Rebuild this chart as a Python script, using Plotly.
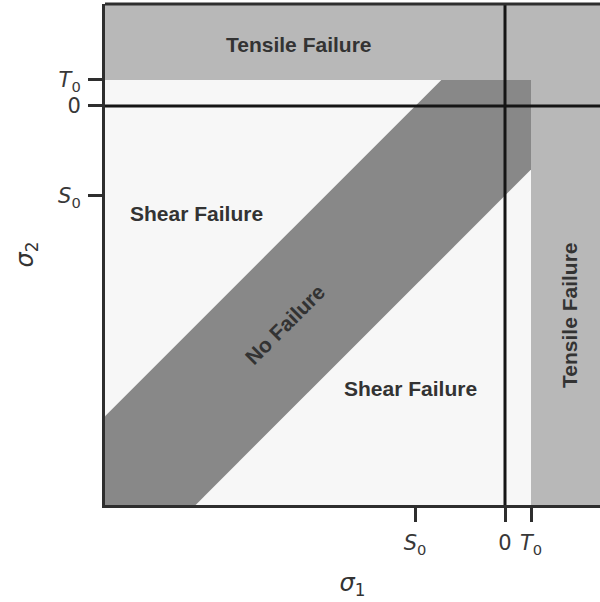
import plotly.graph_objects as go

# ---- data ----
T0 = 1.0            # tensile strength (tick T0)
S0 = -3.46          # shear strength reference (tick S0)
band_half_width = 3.45   # half width of the "No Failure" band, |s1 - s2| <= C
x_limits = [-15.385, 3.654]
y_limits = [-15.35, 3.92]

tick_values = [S0, 0, T0]
tick_labels = ['<i>S</i><sub>0</sub>', '0', '<i>T</i><sub>0</sub>']

region_names = ["Tensile Failure", "Shear Failure", "No Failure", "Shear Failure", "Tensile Failure"]
region_x = [-7.92, -11.85, -8.46, -3.65, 2.5]
region_y = [2.35, -4.15, -8.42, -10.88, -8.04]
region_angle = [0, 0, -45, 0, -90]

# ---- styling ----
BG = "#f7f7f7"
TENSILE = "#b8b8b8"
BAND = "#888888"
INK = "#2e2e2e"

xmin, xmax = x_limits
ymin, ymax = y_limits
C = band_half_width

fig = go.Figure()

# Tensile failure (top)
fig.add_trace(go.Scatter(x=[xmin, xmax, xmax, xmin, xmin], y=[T0, T0, ymax, ymax, T0],
                         fill="toself", fillcolor=TENSILE, mode="lines", line=dict(width=0),
                         hoverinfo="skip", showlegend=False))
# Tensile failure (right)
fig.add_trace(go.Scatter(x=[T0, xmax, xmax, T0, T0], y=[ymin, ymin, T0, T0, ymin],
                         fill="toself", fillcolor=TENSILE, mode="lines", line=dict(width=0),
                         hoverinfo="skip", showlegend=False))
# No failure band clipped to s1<=T0, s2<=T0
bx = [xmin, xmin, ymin + C, T0, T0, T0 - C, xmin]
by = [xmin + C, ymin, ymin, T0 - C, T0, T0, xmin + C]
fig.add_trace(go.Scatter(x=bx, y=by, fill="toself", fillcolor=BAND, mode="lines",
                         line=dict(width=0), hoverinfo="skip", showlegend=False))

# zero lines
fig.add_shape(type="line", xref="x", yref="y", x0=0, x1=0, y0=ymin, y1=ymax,
              line=dict(color="#151515", width=3), layer="above")
fig.add_shape(type="line", xref="x", yref="y", x0=xmin, x1=xmax, y0=0, y1=0,
              line=dict(color="#151515", width=3), layer="above")
# top spine
fig.add_shape(type="line", xref="paper", yref="paper", x0=0, x1=1, y0=1, y1=1,
              line=dict(color=INK, width=3), layer="above")

for name, x, y, a in zip(region_names, region_x, region_y, region_angle):
    fig.add_annotation(x=x, y=y, xref="x", yref="y", text="<b>%s</b>" % name,
                       showarrow=False, textangle=a,
                       font=dict(family="Liberation Sans", size=21, color="#333333"))

axis_common = dict(showgrid=False, zeroline=False, showline=True, linecolor=INK, linewidth=3,
                   ticks="outside", ticklen=14, tickwidth=3, tickcolor=INK,
                   ticklabelstandoff=3,
                   tickfont=dict(family="DejaVu Sans", size=21, color="#383838"),
                   tickmode="array", tickvals=tick_values, ticktext=tick_labels)

fig.update_xaxes(range=x_limits, title=dict(text="<i>σ</i><sub>1</sub>",
                 font=dict(family="DejaVu Sans", size=24, color="#333333"), standoff=18), **axis_common)
fig.update_yaxes(range=y_limits, title=dict(text="<i>σ</i><sub>2</sub>",
                 font=dict(family="DejaVu Sans", size=24, color="#333333"), standoff=18), **axis_common)

fig.update_layout(width=600, height=602, margin=dict(l=105, r=0, t=4, b=97),
                  paper_bgcolor="white", plot_bgcolor=BG)

fig.write_html("out.html")
